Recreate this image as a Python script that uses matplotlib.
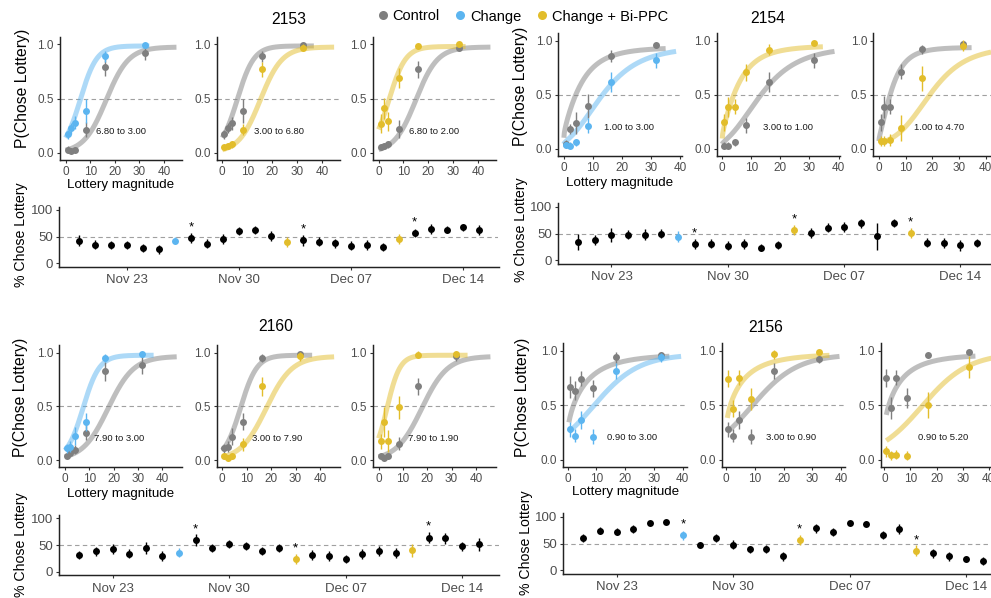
import numpy as np
import matplotlib
matplotlib.use("Agg")
import matplotlib.pyplot as plt
import matplotlib.dates as mdates
import datetime as dt

plt.rcParams['font.family'] = ['Liberation Sans', 'DejaVu Sans']

# ======================= DATA =======================
LEGEND_LABELS = ["Control", "Change", "Change + Bi-PPC"]
ANIMALS = ["2153", "2154", "2160", "2156"]
PANEL_KIND = ["change", "bippc", "bippc"]          # manipulation shown in panels 1..3

# lottery magnitudes (x of the psychometric points)
LOT_2153 = [0.8, 2.3, 3.9, 8.4, 15.9, 32.4]
LOT_2154 = [0.7, 2.0, 4.2, 8.2, 16.2, 31.6]
LOT_2160 = [0.8, 2.3, 4.0, 8.6, 16.3, 31.8]
LOT_2156 = [0.8, 2.4, 4.6, 8.7, 16.8, 32.4]

LAB_2153 = ["6.80 to 3.00", "3.00 to 6.80", "6.80 to 2.00"]
LAB_2154 = ["1.00 to 3.00", "3.00 to 1.00", "1.00 to 4.70"]
LAB_2160 = ["7.90 to 3.00", "3.00 to 7.90", "7.90 to 1.90"]
LAB_2156 = ["0.90 to 3.00", "3.00 to 0.90", "0.90 to 5.20"]

# P(chose lottery): control (grey) and manipulation (coloured), per panel
CTRL_2153 = [[0.03, 0.02, 0.025, 0.215, 0.79, 0.92],
             [0.17, 0.23, 0.275, 0.39, 0.89, 0.99],
             [0.055, 0.065, 0.08, 0.22, 0.77, 0.97]]
CTRL_ERR_2153 = [[0.03, 0.03, 0.03, 0.07, 0.085, 0.06],
                 [0.04, 0.05, 0.06, 0.11, 0.05, 0.02],
                 [0.03, 0.03, 0.03, 0.08, 0.08, 0.03]]
TRT_2153 = [[0.17, 0.225, 0.28, 0.39, 0.89, 0.99],
            [0.055, 0.065, 0.08, 0.215, 0.77, 0.97],
            [0.27, 0.41, 0.29, 0.69, 0.98, 1.0]]
TRT_ERR_2153 = [[0.04, 0.05, 0.06, 0.11, 0.05, 0.02],
                [0.02, 0.03, 0.03, 0.05, 0.07, 0.03],
                [0.09, 0.10, 0.09, 0.09, 0.02, 0.02]]

CTRL_2154 = [[0.046, 0.185, 0.24, 0.40, 0.86, 0.96],
             [0.03, 0.03, 0.06, 0.22, 0.62, 0.82],
             [0.246, 0.39, 0.39, 0.714, 0.923, 0.975]]
CTRL_ERR_2154 = [[0.04, 0.05, 0.10, 0.11, 0.06, 0.03],
                 [0.03, 0.03, 0.03, 0.07, 0.09, 0.07],
                 [0.08, 0.10, 0.07, 0.07, 0.04, 0.02]]
TRT_2154 = [[0.035, 0.03, 0.06, 0.215, 0.62, 0.82],
            [0.245, 0.39, 0.39, 0.71, 0.92, 0.98],
            [0.074, 0.074, 0.083, 0.197, 0.652, 0.954]]
TRT_ERR_2154 = [[0.03, 0.03, 0.03, 0.07, 0.09, 0.07],
                [0.08, 0.09, 0.07, 0.08, 0.05, 0.02],
                [0.05, 0.05, 0.06, 0.12, 0.12, 0.05]]

CTRL_2160 = [[0.04, 0.07, 0.10, 0.255, 0.825, 0.885],
             [0.11, 0.125, 0.22, 0.36, 0.95, 0.985],
             [0.04, 0.02, 0.04, 0.155, 0.685, 0.965]]
CTRL_ERR_2160 = [[0.03, 0.03, 0.04, 0.07, 0.09, 0.08],
                 [0.04, 0.05, 0.08, 0.08, 0.04, 0.02],
                 [0.03, 0.03, 0.03, 0.06, 0.08, 0.04]]
TRT_2160 = [[0.11, 0.125, 0.225, 0.355, 0.95, 0.985],
            [0.04, 0.02, 0.04, 0.15, 0.685, 0.965],
            [0.175, 0.355, 0.18, 0.49, 0.98, 0.985]]
TRT_ERR_2160 = [[0.04, 0.05, 0.08, 0.08, 0.04, 0.02],
                [0.03, 0.03, 0.03, 0.06, 0.09, 0.04],
                [0.07, 0.14, 0.10, 0.11, 0.03, 0.02]]

CTRL_2156 = [[0.665, 0.635, 0.745, 0.655, 0.94, 0.96],
             [0.28, 0.22, 0.365, 0.21, 0.815, 0.93],
             [0.75, 0.474, 0.755, 0.566, 0.963, 0.988]]
CTRL_ERR_2156 = [[0.10, 0.09, 0.07, 0.08, 0.05, 0.03],
                 [0.07, 0.06, 0.08, 0.07, 0.07, 0.04],
                 [0.08, 0.10, 0.07, 0.09, 0.03, 0.02]]
TRT_2156 = [[0.28, 0.22, 0.365, 0.21, 0.815, 0.94],
            [0.745, 0.47, 0.755, 0.555, 0.97, 0.99],
            [0.075, 0.04, 0.045, 0.035, 0.505, 0.85]]
TRT_ERR_2156 = [[0.07, 0.06, 0.08, 0.07, 0.07, 0.04],
                [0.08, 0.08, 0.07, 0.10, 0.04, 0.02],
                [0.05, 0.04, 0.04, 0.04, 0.12, 0.10]]

# fitted curves: (x0, slope, power, lower, upper, x_start, x_end)
FIT_CTRL_2153 = [(16.5, 0.22, 1.0, 0.0, 0.975, 0.0, 45.0),
                 (6.0, 0.30, 1.0, 0.0, 0.985, 0.0, 36.6),
                 (15.0, 0.23, 1.0, 0.0, 0.975, 0.0, 45.0)]
FIT_TRT_2153 = [(6.0, 0.30, 1.0, 0.0, 0.985, 0.0, 34.0),
                (15.2, 0.23, 1.0, 0.0, 0.975, 0.0, 44.7),
                (4.2, 0.30, 1.0, 0.0, 0.98, 0.0, 35.0)]
FIT_CTRL_2154 = [(3.6, 1.10, 0.5, 0.0, 0.94, 0.0, 35.0),
                 (13.0, 1.12, 0.5, 0.03, 0.95, 0.0, 38.6),
                 (4.0, 1.50, 0.5, 0.03, 0.94, 0.0, 34.7)]
FIT_TRT_2154 = [(13.0, 1.12, 0.5, 0.03, 0.95, 0.0, 38.6),
                (3.6, 1.15, 0.5, 0.0, 0.955, 0.0, 34.6),
                (19.0, 1.30, 0.5, 0.05, 0.95, 0.0, 42.0)]
FIT_CTRL_2160 = [(17.8, 0.19, 1.0, 0.0, 0.965, 0.0, 46.0),
                 (7.5, 0.30, 1.0, 0.0, 0.975, 0.0, 36.8),
                 (17.8, 0.19, 1.0, 0.0, 0.965, 0.0, 46.0)]
FIT_TRT_2160 = [(7.5, 0.30, 1.0, 0.0, 0.975, 0.0, 36.5),
                (18.0, 0.19, 1.0, 0.0, 0.965, 0.0, 45.8),
                (3.5, 0.38, 1.0, 0.0, 0.975, 0.0, 36.6)]
FIT_CTRL_2156 = [(1.8, 0.85, 0.5, 0.0, 0.97, 0.4, 35.4),
                 (8.7, 0.125, 1.0, 0.0, 0.97, 0.4, 39.4),
                 (1.5, 0.85, 0.5, 0.0, 0.97, 0.75, 34.9)]
FIT_TRT_2156 = [(8.7, 0.125, 1.0, 0.0, 0.97, 0.4, 39.5),
                (1.3, 0.85, 0.5, 0.0, 0.975, 0.4, 35.9),
                (14.4, 0.112, 1.0, 0.0, 0.98, 0.75, 43.75)]

# daily % chose lottery
TS_START_2153 = "2020-11-20"
TS_2153 = [42.5, 35, 34, 34, 29, 26, 42.5, 47, 37, 45, 60.6, 62, 50.6, 40, 43,
           40.6, 37.5, 33, 34, 30.6, 45, 57, 64, 63, 67, 62]
TS_ERR_2153 = [10, 9, 7, 8, 8, 8, 7, 9, 9, 9, 8, 8, 9, 10, 10, 9, 8, 9, 9, 8,
               9, 8, 9, 7, 6, 9]
TS_CHANGE_2153 = ["2020-11-26"]
TS_BIPPC_2153 = ["2020-12-03", "2020-12-10"]
TS_STARS_2153 = ["2020-11-27", "2020-12-04", "2020-12-11"]

TS_START_2154 = "2020-11-21"
TS_2154 = [34, 37.5, 47.5, 48, 47.5, 50, 44, 31, 31, 27.5, 30, 24, 29, 56, 51,
           61, 62, 69, 45, 69, 51, 33, 32.5, 28, 32.5]
TS_ERR_2154 = [15, 9, 13, 9, 10, 8, 10, 9, 8, 8, 9, 6, 8, 9, 10, 8, 9, 8, 25,
               7, 9, 8, 10, 10, 8]
TS_CHANGE_2154 = ["2020-11-27"]
TS_BIPPC_2154 = ["2020-12-04", "2020-12-11"]
TS_STARS_2154 = ["2020-11-28", "2020-12-04", "2020-12-11"]

TS_START_2160 = "2020-11-21"
TS_2160 = [31, 38, 42.5, 34, 44, 30, 35.6, 59, 44, 52, 48, 39, 44, 24, 31, 29,
           24, 33, 39, 35, 40, 64, 62.5, 47.5, 51]
TS_ERR_2160 = [7, 9, 10, 9, 11, 9, 8, 11, 7, 8, 7, 7, 7, 9, 9, 9, 8, 9, 9, 9,
               12, 11, 10, 9, 12]
TS_CHANGE_2160 = ["2020-11-27"]
TS_BIPPC_2160 = ["2020-12-04", "2020-12-11"]
TS_STARS_2160 = ["2020-11-28", "2020-12-04", "2020-12-12"]

TS_START_2156 = "2020-11-21"
TS_2156 = [60, 74, 72, 76.5, 87.6, 89.5, 65, 47, 60.5, 48, 39, 39.5, 26.5, 56,
           78, 71, 88, 87, 66, 77, 36.4, 32, 26, 21.6, 17.3]
TS_ERR_2156 = [7, 6, 7, 7, 4, 4, 8, 6, 7, 8, 7, 7, 8, 9, 9, 7, 4, 5, 7, 9, 10,
               8, 8, 6, 7]
TS_CHANGE_2156 = ["2020-11-27"]
TS_BIPPC_2156 = ["2020-12-04", "2020-12-11"]
TS_STARS_2156 = ["2020-11-27", "2020-12-04", "2020-12-11"]

TS_TICKS = ["2020-11-23", "2020-11-30", "2020-12-07", "2020-12-14"]

# ======================= STYLE / LAYOUT =======================
W, H = 991, 598
GRAY_PT = "#7f7f7f"
GRAY_LN = "#8a8a8a"
BLUE = "#5cb5f0"
YEL = "#e2bd2b"
KIND_COLOR = {"change": BLUE, "bippc": YEL}
AXCOL = "#222222"
TICKLAB = "#4d4d4d"

CURVE_BOXES = {
    "2153": [(60, 182, 36.7, 160), (216.7, 339.7, 36.7, 160), (373, 496, 36.7, 160)],
    "2154": [(558.3, 681.7, 33.3, 156), (716.7, 840.1, 33.3, 156), (873.3, 996.7, 33.3, 156)],
    "2160": [(59.3, 182.3, 345, 467.3), (216.7, 339.7, 345, 467.3), (373, 496, 345, 467.3)],
    "2156": [(563.3, 686.7, 343.3, 466.7), (721.7, 845.1, 343.3, 466.7), (880.7, 1004.1, 343.3, 466.7)],
}
TS_BOXES = {
    "2153": (59.3, 498.5, 206.7, 266.7),
    "2154": (558.3, 997.0, 203.3, 264.0),
    "2160": (59.3, 498.7, 515.0, 575.3),
    "2156": (563.3, 1002.6, 513.3, 574.0),
}
TITLE_POS = {"2153": (289, 24), "2154": (767.7, 23.3), "2160": (276, 330.7), "2156": (765.7, 331.7)}
PLAB_POS = {"2153": (22.5, 148.3), "2154": (521, 145.7), "2160": (21, 456.7), "2156": (522.5, 456.7)}
TSLAB_POS = {"2153": (21, 286.7), "2154": (521, 281.7), "2160": (21, 596.7), "2156": (526, 595)}
XLAB_POS = {"2153": (121, 185), "2154": (620, 182.5), "2160": (121, 494), "2156": (625.5, 492.5)}

fig = plt.figure(figsize=(W / 100, H / 100), dpi=100)


def px_axes(l, r, t, b):
    return fig.add_axes([l / W, 1 - b / H, (r - l) / W, (b - t) / H])


def style(ax, fs):
    for s in ("top", "right"):
        ax.spines[s].set_visible(False)
    for s in ("left", "bottom"):
        ax.spines[s].set_linewidth(1.05)
        ax.spines[s].set_color(AXCOL)
    ax.tick_params(length=2.3, width=0.8, color="#333333", labelsize=fs,
                   labelcolor=TICKLAB, pad=2)
    ax.patch.set_alpha(0)


def curve(x, fit):
    x0, k, rho, lo, hi = fit[:5]
    return lo + (hi - lo) / (1 + np.exp(-k * (x ** rho - x0 ** rho)))


def to_date(s):
    return mdates.date2num(dt.datetime.strptime(s, "%Y-%m-%d"))


def draw_animal(name, lot, ctrl, ctrl_err, trt, trt_err, fit_c, fit_t, labels,
                ts_start, ts, ts_err, ts_change, ts_bippc, ts_stars):
    for i in range(3):
        ax = px_axes(*CURVE_BOXES[name][i])
        style(ax, 8.5)
        xs_min = min(fit_c[i][5], fit_t[i][5])
        xs_max = max(fit_c[i][6], fit_t[i][6])
        pad = 0.05 * (xs_max - xs_min)
        ax.set_xlim(xs_min - pad, xs_max + pad)
        ax.set_ylim(-0.065, 1.07)
        ax.axhline(0.5, color="#a0a0a0", lw=0.8, ls=(0, (4, 3)), zorder=1)
        col = KIND_COLOR[PANEL_KIND[i]]
        xc = np.linspace(fit_c[i][5], fit_c[i][6], 300)
        ax.plot(xc, curve(xc, fit_c[i]), color=GRAY_LN, lw=3.6, alpha=0.55,
                solid_capstyle="butt", zorder=2)
        xt = np.linspace(fit_t[i][5], fit_t[i][6], 300)
        ax.plot(xt, curve(xt, fit_t[i]), color=col, lw=3.6, alpha=0.5,
                solid_capstyle="butt", zorder=2)
        ax.errorbar(lot, ctrl[i], yerr=ctrl_err[i], fmt="o", color=GRAY_PT,
                    ms=5.0, mec="none", elinewidth=1.0, capsize=0, zorder=3)
        ax.errorbar(lot, trt[i], yerr=trt_err[i], fmt="o", color=col,
                    ms=5.0, mec="none", elinewidth=1.0, capsize=0, zorder=4)
        ax.set_xticks([0, 10, 20, 30, 40])
        ax.set_yticks([0.0, 0.5, 1.0])
        ax.set_yticklabels(["0.0", "0.5", "1.0"])
        ax.text(22.5, 0.2, labels[i], fontsize=6.8, ha="center", va="center",
                color="#1a1a1a", zorder=5)

    # time series
    ax = px_axes(*TS_BOXES[name])
    style(ax, 9.5)
    d0 = to_date(ts_start)
    days = d0 + np.arange(len(ts))
    span = days[-1] - days[0]
    ax.set_xlim(days[0] - 0.05 * span, days[-1] + 0.05 * span)
    ax.set_ylim(-6.5, 106)
    ax.axhline(50, color="#a0a0a0", lw=0.8, ls=(0, (4, 3)), zorder=1)
    change_d = [to_date(s) for s in ts_change]
    bippc_d = [to_date(s) for s in ts_bippc]
    for d, v, e in zip(days, ts, ts_err):
        if d in change_d:
            c = BLUE
        elif d in bippc_d:
            c = YEL
        else:
            c = "black"
        ax.errorbar([d], [v], yerr=[e], fmt="o", color=c, ms=5.0, mec="none",
                    elinewidth=1.0, capsize=0, zorder=3)
    for s in ts_stars:
        d = to_date(s)
        v = ts[int(round(d - d0))]
        ax.text(d, v + 20, "*", ha="center", va="center", fontsize=9.5,
                color="black", zorder=4)
    ax.set_xticks([to_date(s) for s in TS_TICKS])
    ax.xaxis.set_major_formatter(mdates.DateFormatter("%b %d"))
    ax.set_yticks([0, 50, 100])
    ax.tick_params(axis="x", pad=3)

    # texts
    tx, ty = TITLE_POS[name]
    fig.text(tx / W, 1 - ty / H, name, ha="center", va="baseline", fontsize=11.3,
             color="black")
    px_, py_ = PLAB_POS[name]
    fig.text(px_ / W, 1 - py_ / H, "P(Chose Lottery)", rotation=90, ha="center",
             va="bottom", fontsize=11.3, color="black")
    px_, py_ = TSLAB_POS[name]
    fig.text(px_ / W, 1 - py_ / H, "% Chose Lottery", rotation=90, ha="center",
             va="bottom", fontsize=10.2, color="black")
    px_, py_ = XLAB_POS[name]
    fig.text(px_ / W, 1 - py_ / H, "Lottery magnitude", ha="center", va="center",
             fontsize=9.6, color="black")


draw_animal("2153", LOT_2153, CTRL_2153, CTRL_ERR_2153, TRT_2153, TRT_ERR_2153,
            FIT_CTRL_2153, FIT_TRT_2153, LAB_2153, TS_START_2153, TS_2153,
            TS_ERR_2153, TS_CHANGE_2153, TS_BIPPC_2153, TS_STARS_2153)
draw_animal("2154", LOT_2154, CTRL_2154, CTRL_ERR_2154, TRT_2154, TRT_ERR_2154,
            FIT_CTRL_2154, FIT_TRT_2154, LAB_2154, TS_START_2154, TS_2154,
            TS_ERR_2154, TS_CHANGE_2154, TS_BIPPC_2154, TS_STARS_2154)
draw_animal("2160", LOT_2160, CTRL_2160, CTRL_ERR_2160, TRT_2160, TRT_ERR_2160,
            FIT_CTRL_2160, FIT_TRT_2160, LAB_2160, TS_START_2160, TS_2160,
            TS_ERR_2160, TS_CHANGE_2160, TS_BIPPC_2160, TS_STARS_2160)
draw_animal("2156", LOT_2156, CTRL_2156, CTRL_ERR_2156, TRT_2156, TRT_ERR_2156,
            FIT_CTRL_2156, FIT_TRT_2156, LAB_2156, TS_START_2156, TS_2156,
            TS_ERR_2156, TS_CHANGE_2156, TS_BIPPC_2156, TS_STARS_2156)

# legend (top centre)
lax = fig.add_axes([0, 0, 1, 1])
lax.set_xlim(0, W)
lax.set_ylim(H, 0)
lax.axis("off")
LEG_MARK_X = [382.7, 460.0, 541.7]
LEG_COLORS = [GRAY_PT, BLUE, YEL]
for xm, c, lab in zip(LEG_MARK_X, LEG_COLORS, LEGEND_LABELS):
    lax.plot([xm], [15], "o", ms=6.5, color=c, mec="none")
    lax.text(xm + 10, 20.5, lab, ha="left", va="baseline", fontsize=10.5,
             color="black")

fig.savefig("out.png", dpi=100)
